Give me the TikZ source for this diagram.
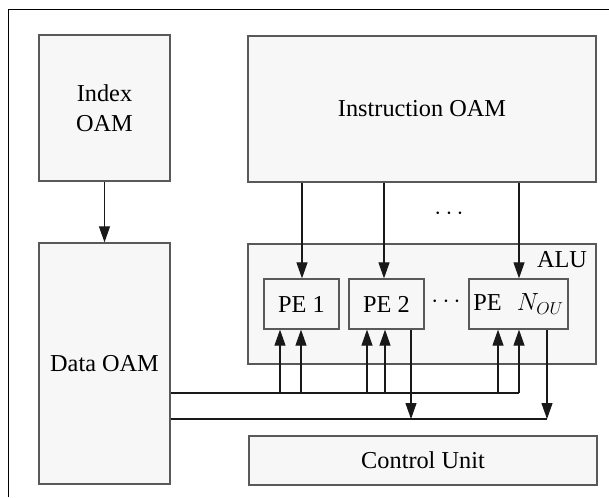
\documentclass[tikz,border=0pt]{standalone}
\usepackage{fontspec}
\setmainfont{Liberation Serif}
\usetikzlibrary{arrows.meta,positioning}

\tikzset{
	block/.style={draw=black!65, line width=1.3pt, fill=black!3, inner sep=0pt, align=center, font=\fontsize{24.3}{30}\selectfont},
	wire/.style={black!90, line width=1.1pt},
	arr/.style={wire, -{Triangle[width=11pt,length=16pt]}}
}

\begin{document}
\begin{tikzpicture}[x=1pt,y=-1pt]
		\useasboundingbox (0,0) rectangle (609,497);
		\draw[line width=1pt] (8,497) -- (8,10) -- (609,10);
	
		\node[block, minimum width=131pt, minimum height=146pt] (index) at (104.5,108) {Index\\OAM};
		\node[block, minimum width=131pt, minimum height=241pt] (data) at (104.5,363.5) {Data OAM};
		\node[block, minimum width=348pt, minimum height=146pt] (instr) at (422,109) {Instruction OAM};
		\node[block, minimum width=348pt, minimum height=120pt] (alu) at (422,304) {};
		\node[block, anchor=north east, draw=none, fill=none] at ([xshift=-9pt,yshift=-7pt]alu.north east) {ALU};
		\node[block, minimum width=75pt, minimum height=50pt] (pe1) at (301.5,304) {PE 1};
		\node[block, minimum width=75pt, minimum height=50pt] (pe2) at (386.5,304) {PE 2};
		\node[block, minimum width=99pt, minimum height=50pt] (peN) at (518.5,304) {PE\hspace{15pt}$N_{OU}$};
		\node[block, minimum width=348pt, minimum height=49pt] (cu) at (423,460.5) {Control Unit};
		\node[font=\fontsize{24}{30}\selectfont] (dots1) at (449,214) {$\cdots$};
		\node[font=\fontsize{24}{30}\selectfont] (dots2) at (446,302) {$\cdots$};
	
		\coordinate (bus1) at (519,393);
		\coordinate (bus2) at (547,419);
	
		\draw[arr] (index) -- (data);
		\draw[arr] (302,0 |- instr.south) -- (302,0 |- pe1.north);
		\draw[arr] (384,0 |- instr.south) -- (384,0 |- pe2.north);
		\draw[arr] (519,0 |- instr.south) -- (519,0 |- peN.north);
	
		\draw[wire] (data.east |- bus1) -- (bus1);
		\draw[wire] (data.east |- bus2) -- (bus2);
		\foreach \x in {280,301} \draw[arr] (\x,0 |- bus1) -- (\x,0 |- pe1.south);
		\foreach \x in {367,385} \draw[arr] (\x,0 |- bus1) -- (\x,0 |- pe2.south);
		\foreach \x in {498,519} \draw[arr] (\x,0 |- bus1) -- (\x,0 |- peN.south);
		\draw[arr] (411,0 |- pe2.south) -- (411,0 |- bus2);
		\draw[arr] (bus2 |- peN.south) -- (bus2);
		\end{tikzpicture}
\end{document}
